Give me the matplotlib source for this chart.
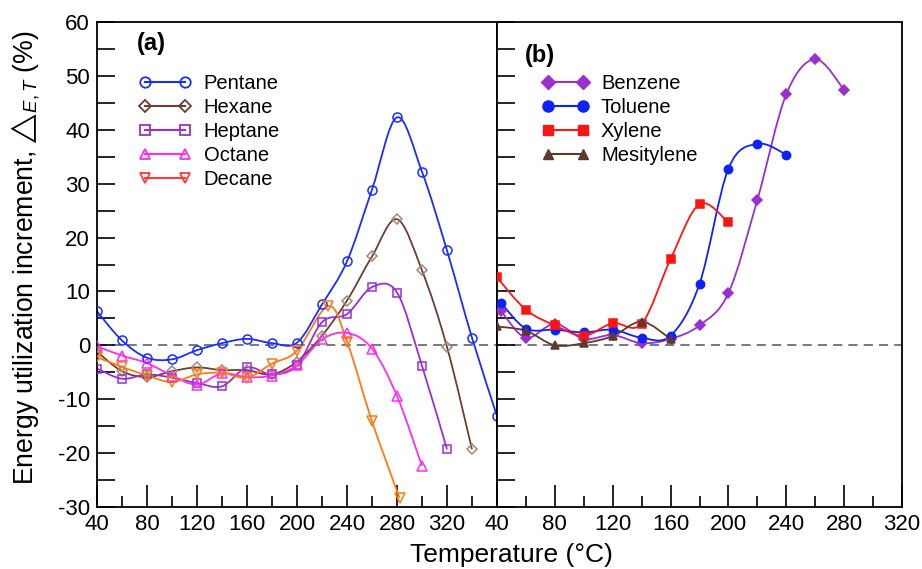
"""
Energy utilization increment vs temperature, two panels
(a) alkanes, (b) aromatics
"""

import numpy as np
import matplotlib
matplotlib.use('Agg')
import matplotlib.pyplot as plt
from matplotlib.path import Path
from matplotlib.patches import PathPatch
from matplotlib.lines import Line2D
from matplotlib.ticker import MultipleLocator

plt.rcParams['font.family'] = ['Liberation Sans', 'DejaVu Sans']
plt.rcParams['mathtext.fontset'] = 'custom'
plt.rcParams['mathtext.rm'] = 'Liberation Sans'
plt.rcParams['mathtext.it'] = 'Liberation Sans:italic'
plt.rcParams['mathtext.fallback'] = 'stixsans'
plt.rcParams['axes.unicode_minus'] = False

# ---- data (a) alkanes ----
pentane_t = [40, 60, 80, 100, 120, 140, 160, 180, 200, 220, 240, 260, 280, 300, 320, 340, 360]
pentane_v = [6.3, 0.9, -2.3, -2.6, -0.9, 0.4, 1.2, 0.4, 0.5, 7.6, 15.6, 28.9, 42.3, 32.2, 17.6, 1.4, -13.1]

hexane_t = [40, 60, 80, 100, 120, 140, 160, 180, 200, 220, 240, 260, 280, 300, 320, 340]
hexane_v = [-1.2, -4.8, -5.9, -4.8, -4.1, -4.6, -4.6, -5.4, -3.0, 1.8, 8.3, 16.5, 23.4, 13.9, -0.3, -19.3]

heptane_t = [40, 60, 80, 100, 120, 140, 160, 180, 200, 220, 240, 260, 280, 300, 320]
heptane_v = [-4.3, -6.2, -5.4, -6.0, -7.0, -7.6, -4.1, -5.4, -3.7, 4.3, 5.8, 10.8, 9.8, -3.8, -19.3]

octane_t = [40, 60, 80, 100, 120, 140, 160, 180, 200, 220, 240, 260, 280, 300]
octane_v = [-0.2, -1.9, -3.3, -5.6, -7.3, -5.2, -5.9, -5.6, -3.7, 1.1, 2.3, -0.6, -9.4, -22.4]

decane_t = [40, 60, 80, 100, 120, 140, 160, 180, 200, 225, 240, 260, 282]
decane_v = [-2.2, -4.0, -5.6, -6.8, -5.4, -5.1, -6.0, -3.4, -1.0, 7.3, 0.7, -14.1, -28.3]

# ---- data (b) aromatics ----
benzene_t = [43, 60, 80, 100, 120, 140, 160, 180, 200, 220, 240, 260, 280]
benzene_v = [6.3, 1.4, 4.0, 1.2, 1.9, 0.4, 1.2, 3.7, 9.7, 27.0, 46.6, 53.1, 47.4]

toluene_t = [43, 60, 80, 100, 120, 140, 160, 180, 200, 220, 240]
toluene_v = [7.8, 3.1, 2.9, 2.4, 2.9, 1.4, 1.8, 11.4, 32.8, 37.4, 35.4]

xylene_t = [40, 60, 80, 100, 120, 140, 160, 180, 200]
xylene_v = [12.6, 6.6, 3.7, 1.8, 4.1, 4.0, 16.0, 26.2, 22.8]

mesitylene_t = [40, 60, 80, 100, 120, 140, 160]
mesitylene_v = [3.5, 2.7, 0.0, 0.4, 1.7, 4.4, 1.2]


def smooth_path(x, y):
    # Catmull-Rom style cubic bezier through the data points
    x = np.asarray(x, float)
    y = np.asarray(y, float)
    px = np.concatenate([[x[0]], x, [x[-1]]])
    py = np.concatenate([[y[0]], y, [y[-1]]])
    verts = [(x[0], y[0])]
    codes = [Path.MOVETO]
    for i in range(1, len(px) - 2):
        c1 = (px[i] + (px[i + 1] - px[i - 1]) / 6, py[i] + (py[i + 1] - py[i - 1]) / 6)
        c2 = (px[i + 1] - (px[i + 2] - px[i]) / 6, py[i + 1] - (py[i + 2] - py[i]) / 6)
        verts += [c1, c2, (px[i + 1], py[i + 1])]
        codes += [Path.CURVE4] * 3
    return Path(verts, codes)


def draw_series(ax, t, v, color, marker, mfc, mec, ms):
    ax.add_patch(PathPatch(smooth_path(t, v), facecolor='none', edgecolor=color, lw=1.3, zorder=2))
    ax.plot(t, v, ls='none', marker=marker, mfc=mfc, mec=mec, ms=ms, mew=1.1, zorder=3)


fig = plt.figure(figsize=(9.22, 5.69), dpi=100)
ax1 = fig.add_axes([97 / 922, 62 / 569, 400 / 922, 485 / 569])
ax2 = fig.add_axes([497 / 922, 62 / 569, 405 / 922, 485 / 569])

# panel (a)
a_series = [
    ('Pentane', pentane_t, pentane_v, '#1a2cff', 'o', 'none', '#1a2cff', '#1a2cff', 6.5),
    ('Hexane', hexane_t, hexane_v, '#6b3f32', 'D', 'none', '#a08878', '#6b3f32', 5),
    ('Heptane', heptane_t, heptane_v, '#9a2fcf', 's', 'none', '#9a2fcf', '#9a2fcf', 6),
    ('Octane', octane_t, octane_v, '#ff2cf0', '^', 'none', '#ff2cf0', '#ff2cf0', 6.5),
    ('Decane', decane_t, decane_v, '#ff7a12', 'v', 'none', '#ff7a12', '#ff3a3a', 6.5),
]
handles = []
for name, t, v, col, mk, mfc, mec, legcol, ms in a_series:
    draw_series(ax1, t, v, col, mk, mfc, mec, ms)
    lc = col if name != 'Decane' else legcol
    handles.append(Line2D([], [], color=lc, marker=mk, mfc='none', mec=legcol, ms=ms + 1, mew=1.3, lw=1.5, label=name))

# panel (b)
b_series = [
    ('Benzene', benzene_t, benzene_v, '#9a2fcf', 'D', 5),
    ('Toluene', toluene_t, toluene_v, '#0f22f5', 'o', 6),
    ('Xylene', xylene_t, xylene_v, '#ff1414', 's', 5.5),
    ('Mesitylene', mesitylene_t, mesitylene_v, '#5e3a2e', '^', 5.5),
]
handles_b = []
for name, t, v, col, mk, ms in b_series:
    draw_series(ax2, t, v, col, mk, col, col, ms)
    handles_b.append(Line2D([], [], color=col, marker=mk, mfc=col, mec=col, ms=ms + 2, lw=1.5, label=name))

for ax in (ax1, ax2):
    ax.axhline(0, color='#555555', lw=1.1, ls=(0, (6, 4)), zorder=1)
    ax.set_ylim(-30, 60)
    ax.yaxis.set_major_locator(MultipleLocator(10))
    ax.yaxis.set_minor_locator(MultipleLocator(5))
    ax.xaxis.set_major_locator(MultipleLocator(40))
    ax.xaxis.set_minor_locator(MultipleLocator(20))
    ax.tick_params(which='both', direction='in', labelsize=16, width=1.2,
                   top=False, right=False)
    ax.tick_params(axis='y', which='both', length=13, pad=5)
    ax.tick_params(axis='x', which='major', length=16, pad=5)
    ax.tick_params(axis='x', which='minor', length=8)
    for s in ax.spines.values():
        s.set_linewidth(1.3)

ax1.set_xlim(40, 360)
ax1.set_xticks([40, 80, 120, 160, 200, 240, 280, 320])
ax2.set_xlim(40, 320)
ax2.tick_params(axis='y', labelleft=False)

ax1.set_ylabel('Energy utilization increment, $\u25b3_{E,T}$ (%)', fontsize=19.2)
ax1.yaxis.set_label_coords(-0.138, 0.515)
fig.text(0.555, 0.004, 'Temperature (°C)', fontsize=19, ha='center', va='bottom')

ax1.text(0.1, 0.98, '(a)', transform=ax1.transAxes, fontsize=17, fontweight='bold', va='top')
ax2.text(0.07, 0.955, '(b)', transform=ax2.transAxes, fontsize=17, fontweight='bold', va='top')

ax1.legend(handles=handles, loc='upper left', bbox_to_anchor=(0.085, 0.91), frameon=False,
           fontsize=14.5, numpoints=2, handlelength=2.6, handletextpad=0.6, labelspacing=0.25,
           borderaxespad=0)
ax2.legend(handles=handles_b, loc='upper left', bbox_to_anchor=(0.09, 0.91), frameon=False,
           fontsize=14.5, numpoints=2, handlelength=2.35, handletextpad=0.6, labelspacing=0.25,
           borderaxespad=0)

fig.savefig('out.png', dpi=100)
